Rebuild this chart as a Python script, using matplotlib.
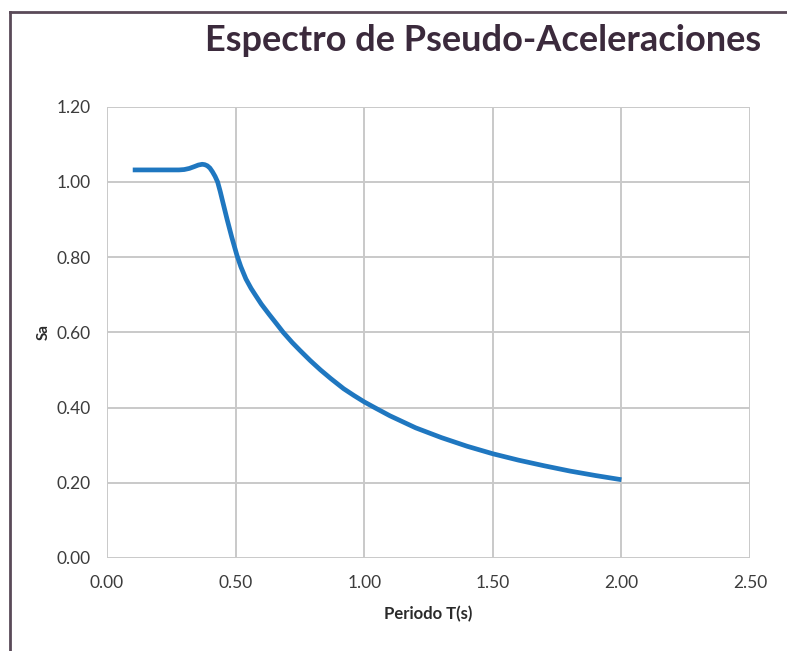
import matplotlib.pyplot as plt
from matplotlib.lines import Line2D

periodo = [0.10, 0.20, 0.28, 0.30, 0.32, 0.34, 0.355, 0.37, 0.38, 0.39, 0.40,
           0.41, 0.42, 0.43, 0.44, 0.45, 0.467, 0.485, 0.505, 0.52, 0.54, 0.56,
           0.576, 0.60, 0.63, 0.66, 0.685, 0.72, 0.75, 0.79, 0.83, 0.87, 0.92,
           0.96, 1.00, 1.04, 1.10, 1.20, 1.30, 1.40, 1.50, 1.60, 1.70, 1.80,
           1.90, 2.00]
sa = [1.032, 1.032, 1.032, 1.033, 1.036, 1.041, 1.045, 1.047, 1.046, 1.043, 1.037,
      1.027, 1.015, 1.00, 0.975, 0.947, 0.90, 0.853, 0.805, 0.775, 0.742, 0.717,
      0.70, 0.675, 0.648, 0.622, 0.60, 0.573, 0.552, 0.525, 0.50, 0.477, 0.45,
      0.432, 0.415, 0.40, 0.378, 0.346, 0.32, 0.297, 0.277, 0.26, 0.245, 0.231,
      0.219, 0.208]

xticks = [0.0, 0.5, 1.0, 1.5, 2.0, 2.5]
yticks = [0.0, 0.2, 0.4, 0.6, 0.8, 1.0, 1.2]

plt.rcParams['font.family'] = ['Lato', 'DejaVu Sans']

fig = plt.figure(figsize=(7.87, 6.51), dpi=100)
ax = fig.add_axes([0.136, 0.143, 0.817, 0.693])

ax.plot(periodo, sa, color='#1f77c0', linewidth=3.4, solid_capstyle='butt',
        solid_joinstyle='round')

ax.set_xlim(0, 2.5)
ax.set_ylim(0, 1.2)
ax.set_xticks(xticks)
ax.set_yticks(yticks)
ax.set_xticklabels([f"{v:.2f}" for v in xticks])
ax.set_yticklabels([f"{v:.2f}" for v in yticks])
ax.tick_params(length=0, labelsize=12.5, labelcolor='#3c3c3c', pad=12)
ax.grid(True, color='#c9c9c9', linewidth=1.4)
for s in ax.spines.values():
    s.set_visible(False)

ax.set_xlabel('Periodo T(s)', fontsize=12, fontweight='bold', color='#2a2a2a', labelpad=11)
ax.set_ylabel('Sa', fontsize=11, fontweight='bold', color='#2a2a2a', labelpad=4)

fig.text(0.614, 0.938, 'Espectro de Pseudo-Aceleraciones', ha='center', va='center',
         fontsize=26, fontweight='bold', color='#3b2a3c')

# marco del grafico
fig.add_artist(Line2D([0.013, 0.013], [0, 0.982], color='#5a4a58', linewidth=2))
fig.add_artist(Line2D([0.013, 1.0], [0.982, 0.982], color='#5a4a58', linewidth=2))

fig.savefig('out.png', dpi=100)
